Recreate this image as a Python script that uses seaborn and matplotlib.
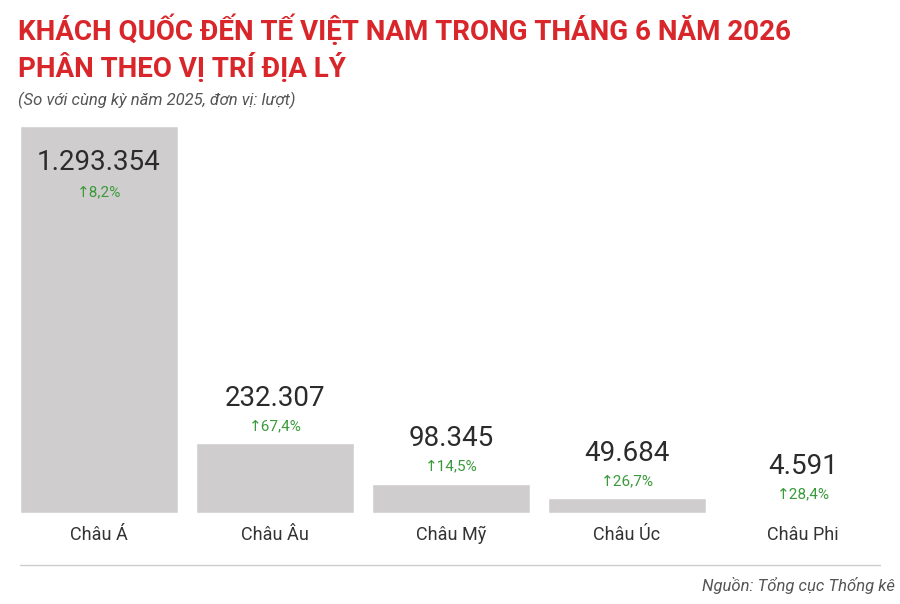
import matplotlib
matplotlib.use("Agg")
import matplotlib.pyplot as plt
import seaborn as sns
import pandas as pd

regions = ["Châu Á", "Châu Âu", "Châu Mỹ", "Châu Úc", "Châu Phi"]
visitors = [1293354, 232307, 98345, 49684, 4591]
growth = ["8,2%", "67,4%", "14,5%", "26,7%", "28,4%"]

df = pd.DataFrame({"region": regions, "visitors": visitors})

sns.set_theme(style="white")
plt.rcParams["font.family"] = ["Roboto", "DejaVu Sans"]

fig = plt.figure(figsize=(9, 6.04), dpi=100)
ax = fig.add_axes([11 / 900, 91 / 604, 880 / 900, 387 / 604])
sns.barplot(data=df, x="region", y="visitors", color="#cfcdcd", width=0.9,
            saturation=1, ax=ax)
ax.set_ylim(0, max(visitors))
ax.set_xlim(-0.5, len(regions) - 0.5)
ax.axis("off")

def fmt(v):
    return f"{v:,}".replace(",", ".")

for i, (v, g) in enumerate(zip(visitors, growth)):
    if i == 0:
        n_off, g_off = -36, -66
    else:
        n_off, g_off = 45, 17
    ax.annotate(fmt(v), (i, v), xytext=(0, n_off * 0.72), textcoords="offset points",
                ha="center", va="center", fontsize=20, color="#2b2b2b")
    ax.annotate("↑" + g, (i, v), xytext=(0, g_off * 0.72), textcoords="offset points",
                ha="center", va="center", fontsize=11, color="#3a9a3a")
    ax.annotate(regions[i], (i, 0), xytext=(0, -22 * 0.72), textcoords="offset points",
                ha="center", va="center", fontsize=13, color="#333333")

fig.text(18 / 900, 1 - 30 / 604, "KHÁCH QUỐC ĐẾN TẾ VIỆT NAM TRONG THÁNG 6 NĂM 2026",
         fontsize=20, fontweight="bold", color="#d8262b", va="center")
fig.text(18 / 900, 1 - 68 / 604, "PHÂN THEO VỊ TRÍ ĐỊA LÝ",
         fontsize=20, fontweight="bold", color="#d8262b", va="center")
fig.text(18 / 900, 1 - 100 / 604, "(So với cùng kỳ năm 2025, đơn vị: lượt)",
         fontsize=12, style="italic", color="#555555", va="center")
fig.add_artist(plt.Line2D([20 / 900, 880 / 900], [1 - 565 / 604] * 2,
                          color="#cccccc", lw=1))
fig.text(895 / 900, 1 - 586 / 604, "Nguồn: Tổng cục Thống kê", fontsize=12,
         style="italic", color="#555555", ha="right", va="center")

fig.savefig("out.png", dpi=100)
